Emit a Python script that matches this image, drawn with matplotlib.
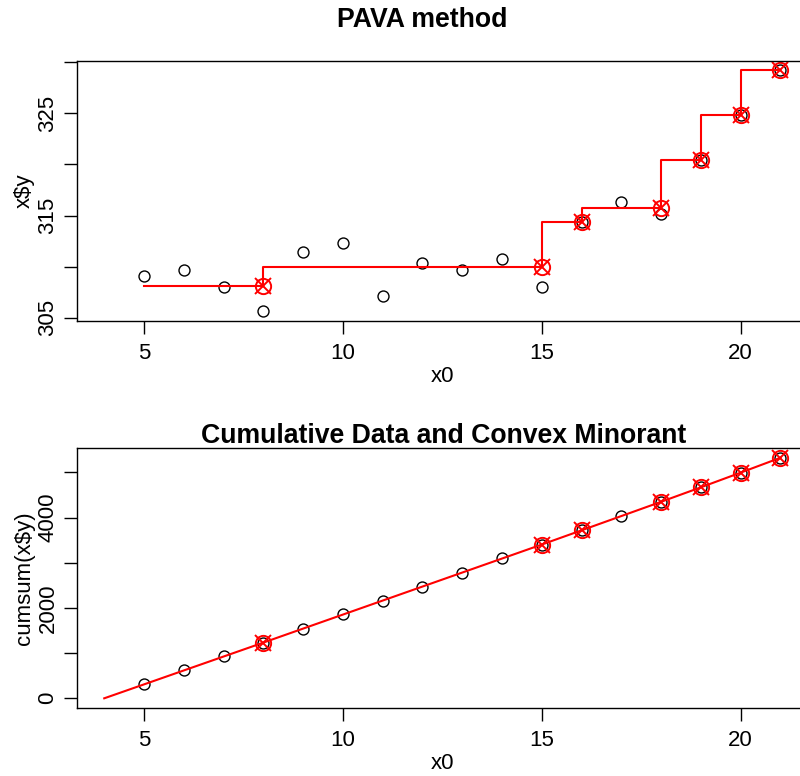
import numpy as np
import matplotlib
matplotlib.use("Agg")
import matplotlib.pyplot as plt

plt.rcParams['font.family'] = ['Liberation Sans', 'DejaVu Sans']

# data
x0 = [5, 6, 7, 8, 9, 10, 11, 12, 13, 14, 15, 16, 17, 18, 19, 20, 21]
y = [309.11, 309.67, 307.97, 305.63, 311.40, 312.31, 307.12, 310.32, 309.67,
     310.74, 308.03, 314.39, 316.35, 315.12, 320.43, 324.83, 329.24]

top_yticks = [305, 310, 315, 320, 325, 330]
top_ylabels = ['305', '', '315', '', '325', '']
bot_yticks = [0, 1000, 2000, 3000, 4000, 5000]
bot_ylabels = ['0', '', '2000', '', '4000', '']
xticks = [5, 10, 15, 20]


# pool adjacent violators -> fitted values and knot indices
def pava(v):
    blocks = []
    for val in v:
        blocks.append([val, 1])
        while len(blocks) > 1 and blocks[-2][0] / blocks[-2][1] > blocks[-1][0] / blocks[-1][1]:
            s, n = blocks.pop()
            blocks[-1][0] += s
            blocks[-1][1] += n
    fit, knots = [], []
    for s, n in blocks:
        fit += [s / n] * n
        knots.append(len(fit) - 1)
    return np.array(fit), knots


x0 = np.array(x0)
y = np.array(y)
yf, knots = pava(y)
cy = np.cumsum(y)

W, H = 800, 776
fig = plt.figure(figsize=(W / 100, H / 100), dpi=100)

left = 77.3 / W
width = 730.1 / W
ax1 = fig.add_axes([left, 1 - 321 / H, width, 260 / H])
ax2 = fig.add_axes([left, 1 - 708.3 / H, width, 260 / H])

circ = dict(ls='none', marker='o', mfc='none', mec='black', ms=7.9, mew=1.0)
kn_o = dict(ls='none', marker='o', mfc='none', mec='red', ms=11, mew=1.4)
kn_x = dict(ls='none', marker='x', mec='red', ms=11, mew=1.4)

# top: data + isotonic step fit
ax1.plot(x0, y, **circ)
ax1.plot(x0, yf, color='red', lw=1.5, drawstyle='steps-pre')
ax1.plot(x0[knots], yf[knots], **kn_o)
ax1.plot(x0[knots], yf[knots], **kn_x)
ax1.set_xlim(3.323, 21.677)
ax1.set_ylim(304.68, 330.12)
ax1.set_yticks(top_yticks)
ax1.set_yticklabels(top_ylabels)
ax1.set_ylabel('x$y')

# bottom: cumulative sums + convex minorant
ax2.plot(x0, cy, **circ)
lx = np.concatenate([[x0[0] - 1], x0[knots]])
ly = np.concatenate([[0], cy[knots]])
ax2.plot(lx, ly, color='red', lw=1.5)
ax2.plot(x0[knots], cy[knots], **kn_o)
ax2.plot(x0[knots], cy[knots], **kn_x)
ax2.set_xlim(3.323, 21.677)
ax2.set_ylim(-221, 5531)
ax2.set_yticks(bot_yticks)
ax2.set_yticklabels(bot_ylabels)
ax2.set_ylabel('cumsum(x$y)')

for ax in (ax1, ax2):
    ax.set_xticks(xticks)
    ax.set_xlabel('x0', fontsize=16)
    ax.xaxis.set_label_coords(0.5, -0.173)
    ax.yaxis.label.set_fontsize(16)
    ax.yaxis.set_label_coords(-0.0583, 0.5)
    ax.tick_params(axis='both', direction='out', length=9.6, width=1.0, labelsize=16)
    ax.tick_params(axis='x', pad=6)
    ax.tick_params(axis='y', pad=4)
    for lab in ax.get_yticklabels():
        lab.set_rotation(90)
        lab.set_va('center')
    for sp in ax.spines.values():
        sp.set_linewidth(1.0)

fig.text(422 / W, 1 - 26.7 / H, 'PAVA method', ha='center', va='baseline',
         fontsize=19.2, fontweight='bold')
fig.text(444 / W, 1 - 443 / H, 'Cumulative Data and Convex Minorant', ha='center',
         va='baseline', fontsize=19.2, fontweight='bold')

fig.savefig('out.png', dpi=100)
